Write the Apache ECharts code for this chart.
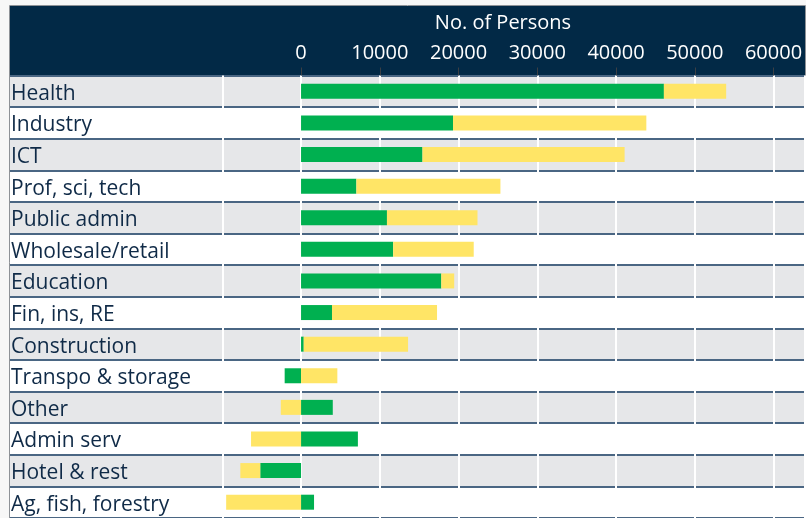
<!DOCTYPE html>
<html>
<head>
<meta charset="utf-8">
<script src="https://cdn.jsdelivr.net/npm/echarts@6/dist/echarts.min.js"></script>
<style>
  html, body { margin: 0; padding: 0; background: #f7f7f7; }
  #chart { width: 806px; height: 518px; }
</style>
</head>
<body>
<div id="chart"></div>
<script>
// sectors, top to bottom
var categories = ['Health', 'Industry', 'ICT', 'Prof, sci, tech', 'Public admin', 'Wholesale/retail',
  'Education', 'Fin, ins, RE', 'Construction', 'Transpo & storage', 'Other', 'Admin serv',
  'Hotel & rest', 'Ag, fish, forestry'];
// green part
var seriesA = [46080, 19300, 15420, 7030, 10910, 11700, 17810, 3930, 340, -2080, 4030, 7220, -5180, 1650];
// yellow part
var seriesB = [7910, 24550, 25670, 18290, 11500, 10230, 1640, 13340, 13250, 4610, -2570, -6350, -2530, -9510];
var axisTitle = 'No. of Persons';

var FONT = '"Open Sans", sans-serif';
var NAVY = '#022946';

var chart = echarts.init(document.getElementById('chart'));

var option = {
  backgroundColor: '#f7f7f7',
  animation: false,
  title: {
    text: axisTitle,
    left: 498,
    top: 8,
    textAlign: 'center',
    textStyle: { color: '#ffffff', fontFamily: FONT, fontSize: 20, fontWeight: 'normal' }
  },
  graphic: [
    {
      type: 'rect', z: -10,
      shape: { x: 9.5, y: 5.5, width: 796, height: 520 },
      style: { fill: '#ffffff', stroke: '#8e9297', lineWidth: 1 }
    },
    {
      type: 'rect', z: -5,
      shape: { x: 10, y: 6, width: 795, height: 70 },
      style: { fill: NAVY }
    }
  ],
  grid: [
    // row bands + labels
    { left: 10, right: 1, top: 75.5, height: 446.6 },
    // bars
    { left: 222.3, right: 1, top: 75.5, height: 446.6 }
  ],
  xAxis: [
    { gridIndex: 0, type: 'value', show: false, min: 0, max: 1 },
    {
      gridIndex: 1, type: 'value', position: 'top', z: 1,
      min: -10000, max: 64000, interval: 10000,
      axisLine: { show: false },
      axisTick: { show: true, length: 8, lineStyle: { color: '#3b3f44', width: 1 } },
      axisLabel: {
        color: '#ffffff', fontFamily: FONT, fontSize: 20, margin: 12,
        showMinLabel: false, showMaxLabel: false,
        formatter: function (v) { return String(v); }
      },
      splitLine: { show: true, lineStyle: { color: '#ffffff', width: 2 } }
    }
  ],
  yAxis: [
    {
      gridIndex: 0, type: 'category', data: categories, inverse: true, z: 0,
      axisLine: { show: false },
      axisTick: { show: false },
      axisLabel: {
        inside: true, margin: 1, align: 'left',
        formatter: function (v) { return '{c|' + v + '}'; },
        rich: {
          c: { color: '#0f2a47', fontFamily: FONT, fontSize: 21, padding: [5, 0, 0, 0] }
        }
      },
      splitArea: { show: true, areaStyle: { color: ['#e6e7e9', '#ffffff'] } },
      splitLine: { show: true, lineStyle: { color: '#4a6683', width: 2 } }
    },
    {
      gridIndex: 1, type: 'category', data: categories, inverse: true, show: false
    }
  ],
  series: [
    {
      name: 'Series A', type: 'bar', stack: 'total', z: 3,
      xAxisIndex: 1, yAxisIndex: 1, barWidth: 15,
      itemStyle: { color: '#00b050' },
      data: seriesA
    },
    {
      name: 'Series B', type: 'bar', stack: 'total', z: 3,
      xAxisIndex: 1, yAxisIndex: 1, barWidth: 15,
      itemStyle: { color: '#ffe566' },
      data: seriesB
    }
  ]
};

chart.setOption(option);
</script>
</body>
</html>
